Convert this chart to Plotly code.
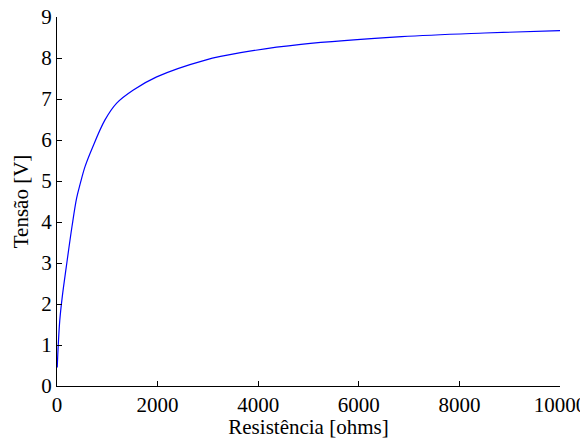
import plotly.graph_objects as go

resistencia = [5, 20, 55, 105, 185, 298, 390, 463, 557, 700, 954, 1187, 1518,
               1982, 2950, 3650, 4850, 6850, 8500, 10000]
tensao = [0.45, 0.88, 1.6, 2.18, 2.91, 3.89, 4.58, 4.94, 5.35, 5.8, 6.49, 6.9,
          7.22, 7.54, 7.95, 8.13, 8.33, 8.52, 8.61, 8.67]

x_ticks = [0, 2000, 4000, 6000, 8000, 10000]
y_ticks = [0, 1, 2, 3, 4, 5, 6, 7, 8, 9]

fig = go.Figure()
fig.add_trace(go.Scatter(x=resistencia, y=tensao, mode="lines",
                         line=dict(color="rgb(0,0,255)", width=1.2, shape="spline"),
                         showlegend=False))

font = dict(family="Liberation Serif, Times New Roman, DejaVu Serif, serif",
            size=21, color="black")
fig.update_layout(
    width=580, height=431,
    margin=dict(l=49, r=28, t=9, b=53),
    paper_bgcolor="white", plot_bgcolor="white",
    font=font,
)
fig.update_xaxes(range=[0, 10000], tickvals=x_ticks, ticktext=[str(v) for v in x_ticks],
                 ticks="inside", ticklen=5, tickcolor="black", showline=True,
                 linecolor="black", linewidth=1, showgrid=False, zeroline=False,
                 automargin=False, ticklabeloverflow="allow",
                 title=dict(text="Resistência [ohms]", standoff=0, font=font), tickfont=font)
fig.update_yaxes(range=[0, 9], tickvals=y_ticks, ticks="inside", ticklen=5,
                 tickcolor="black", showline=True, linecolor="black", linewidth=1,
                 showgrid=False, zeroline=False, automargin=False,
                 ticklabeloverflow="allow", tickfont=font)
fig.add_annotation(text="Tensão [V]", xref="paper", yref="paper", x=-0.072, y=0.5,
                   xanchor="center", yanchor="middle", textangle=-90,
                   showarrow=False, font=font)

fig.write_html("out.html")
